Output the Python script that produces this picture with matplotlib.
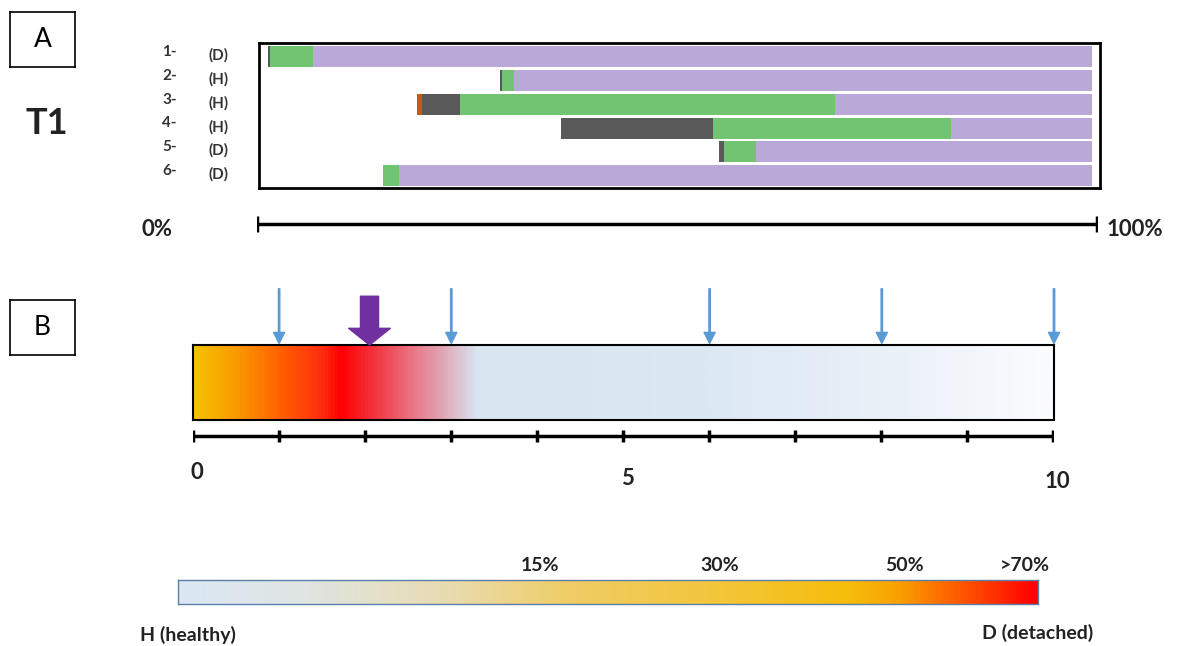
import numpy as np
import matplotlib
matplotlib.use("Agg")
import matplotlib.pyplot as plt
from matplotlib.colors import LinearSegmentedColormap

plt.rcParams['font.family'] = ['Lato', 'DejaVu Sans']

W, H = 1193, 646

# --- panel A: phase start positions (% of the scale) per sample
samples = ['1-', '2-', '3-', '4-', '5-', '6-']
status = ['(D)', '(H)', '(H)', '(H)', '(D)', '(D)']
orange_start = [1.3, 28.9, 19.0, 36.2, 55.0, 15.0]
gray_start = [1.3, 28.9, 19.6, 36.2, 55.0, 15.0]
green_start = [1.6, 29.2, 24.2, 54.3, 55.6, 15.0]
purple_start = [6.7, 30.6, 68.8, 82.6, 59.4, 16.9]
bar_end = [99.4, 99.4, 99.4, 99.4, 99.4, 99.4]

# --- panel B
scale_ticks = list(range(11))
scale_labels = ['0', '5', '10']
scale_label_at = [0, 5, 10]
sample_points = [1, 3, 6, 8, 10]
marked_point = 2

# --- legend
legend_labels = ['15%', '30%', '50%', '>70%']
legend_pos = [0.421, 0.630, 0.845, 0.985]


def box(x0, y0, x1, y1):
    return [x0 / W, 1 - y1 / H, (x1 - x0) / W, (y1 - y0) / H]


fig = plt.figure(figsize=(W / 100, H / 100), dpi=100)

# letter boxes
for lab, (y0, y1) in [('A', (12, 67)), ('B', (300, 355))]:
    bx = fig.add_axes(box(10, y0, 75, y1))
    bx.set_xticks([]); bx.set_yticks([])
    for s in bx.spines.values():
        s.set_linewidth(1.2)
    bx.text(0.5, 0.5, lab, ha='center', va='center', fontsize=19)

fig.text(47 / W, 1 - 124 / H, 'T1', ha='center', va='center', fontsize=26, fontweight='bold', color='#222222')

# panel A bars
ax = fig.add_axes(box(259, 43, 1100, 188))
y = np.arange(len(samples))
o = np.array(orange_start); g = np.array(gray_start)
gr = np.array(green_start); p = np.array(purple_start); e = np.array(bar_end)
h = 0.88
ax.barh(y, g - o, left=o, height=h, color='#c55a11')
ax.barh(y, gr - g, left=g, height=h, color='#595959')
ax.barh(y, p - gr, left=gr, height=h, color='#70c472')
ax.barh(y, e - p, left=p, height=h, color='#b9a8d8')
ax.set_xlim(0.24, 100.36)
ax.set_ylim(5.52, -0.58)
ax.set_xticks([]); ax.set_yticks([])
for s in ax.spines.values():
    s.set_linewidth(2)
for i in y:
    ax.text(-10.4, i - 0.2, samples[i], ha='center', va='center', fontsize=11,
            fontweight='bold', color='#333333', clip_on=False)
    ax.text(-4.6, i - 0.05, status[i], ha='center', va='center', fontsize=11,
            fontweight='bold', color='#333333', clip_on=False)

# panel A scale
sa = fig.add_axes(box(257, 214, 1097, 234))
sa.plot([0, 100], [0, 0], color='black', lw=2.5)
sa.plot([0, 100], [0, 0], ls='none', marker='|', ms=12, mew=2.5, color='black')
sa.set_xlim(0, 100); sa.set_ylim(-1, 1)
sa.axis('off')
sa.text(-11.9, -0.6, '0%', ha='center', va='center', fontsize=16, fontweight='bold', color='#222222')
sa.text(104.5, -0.5, '100%', ha='center', va='center', fontsize=16, fontweight='bold', color='#222222')

# panel B gradient bar
cmap_b = LinearSegmentedColormap.from_list('b', [
    (0.0, '#f6c000'), (0.05, '#fa9800'), (0.10, '#ff6000'), (0.15, '#ff2a10'),
    (0.17, '#ff0000'), (0.20, '#f42830'), (0.25, '#ea7080'), (0.29, '#e0a8b8'),
    (0.33, '#d8e6f2'), (0.60, '#dce8f4'), (0.80, '#e9f0f8'), (1.0, '#fbfcfe')])
bb = fig.add_axes(box(193, 345, 1054, 420))
bb.imshow(np.linspace(0, 1, 600).reshape(1, -1), cmap=cmap_b, aspect='auto',
          extent=(0, 10, 0, 1))
bb.set_xlim(0, 10); bb.set_ylim(0, 1)
bb.set_xticks([]); bb.set_yticks([])
for s in bb.spines.values():
    s.set_linewidth(1.5)
for xp in sample_points:
    bb.annotate('', xy=(xp, 1.02), xytext=(xp, 1.75), xycoords=('data', 'axes fraction'),
                arrowprops=dict(arrowstyle='simple,head_width=8,head_length=8,tail_width=1',
                                mutation_scale=1, color='#5b9bd5', shrinkA=0, shrinkB=0),
                annotation_clip=False)
bb.annotate('', xy=(marked_point + 0.05, 1.0), xytext=(marked_point + 0.05, 1.65),
            xycoords=('data', 'axes fraction'),
            arrowprops=dict(arrowstyle='simple,head_width=30,head_length=12,tail_width=13',
                            mutation_scale=1, color='#7030a0', shrinkA=0, shrinkB=0),
            annotation_clip=False)

# panel B scale
sb = fig.add_axes(box(193, 426, 1053, 446))
sb.plot([0, 10], [0, 0], color='black', lw=2.5)
sb.plot(scale_ticks, [0] * len(scale_ticks), ls='none', marker='|', ms=9, mew=2.5, color='black')
sb.set_xlim(0, 10); sb.set_ylim(-1, 1)
sb.axis('off')
for k, lab, dy in zip(scale_label_at, scale_labels, [-3.6, -4.2, -4.5]):
    sb.text(k + 0.05, dy, lab, ha='center', va='center', fontsize=16,
            fontweight='bold', color='#222222')

# legend colour bar
cmap_l = LinearSegmentedColormap.from_list('l', [
    (0.0, '#dbe8f4'), (0.15, '#e0e5e2'), (0.32, '#e9dbae'), (0.45, '#efcd68'),
    (0.62, '#f3c63c'), (0.78, '#f6bd0c'), (0.84, '#f9a000'), (0.92, '#ff5000'),
    (1.0, '#ff0000')])
lg = fig.add_axes(box(178, 580, 1038, 604))
lg.imshow(np.linspace(0, 1, 600).reshape(1, -1), cmap=cmap_l, aspect='auto',
          extent=(0, 1, 0, 1))
lg.set_xlim(0, 1); lg.set_ylim(0, 1)
lg.set_xticks([]); lg.set_yticks([])
for s in lg.spines.values():
    s.set_linewidth(1)
    s.set_color('#5a7fa8')
for xp, lab in zip(legend_pos, legend_labels):
    lg.text(xp, 1.62, lab, ha='center', va='center', fontsize=14,
            fontweight='bold', color='#222222', clip_on=False)
lg.text(0.011, -1.3, 'H (healthy)', ha='center', va='center', fontsize=14,
        fontweight='bold', color='#222222', clip_on=False)
lg.text(1.0, -1.2, 'D (detached)', ha='center', va='center', fontsize=14,
        fontweight='bold', color='#222222', clip_on=False)

fig.savefig('out.png', dpi=100)
